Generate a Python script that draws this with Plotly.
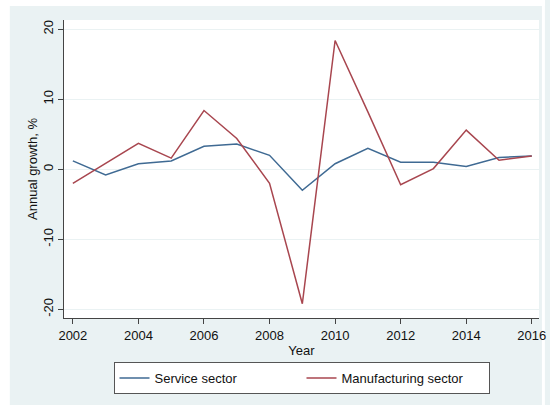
import plotly.graph_objects as go

years = list(range(2002, 2017))
service = [1.2, -0.8, 0.8, 1.2, 3.3, 3.6, 2.0, -3.0, 0.8, 3.0, 1.0, 1.0, 0.4, 1.7, 1.9]
manufacturing = [-2.0, 0.9, 3.7, 1.6, 8.4, 4.4, -2.0, -19.2, 18.4, 8.2, -2.2, 0.1, 5.6, 1.3, 1.9]
x_ticks = list(range(2002, 2017, 2))
y_ticks = [-20, -10, 0, 10, 20]
y_ticktext = ["-20", "-10", "0", "10", "20"]

BG = "#eaf2f3"
AX = "#444444"
FONT = "Liberation Sans, Arial, Helvetica, sans-serif"

fig = go.Figure()
fig.add_trace(go.Scatter(x=years, y=service, mode="lines", name="Service sector",
                         line=dict(color="#3f6a93", width=1.5)))
fig.add_trace(go.Scatter(x=years, y=manufacturing, mode="lines", name="Manufacturing sector",
                         line=dict(color="#a8464f", width=1.5)))

L, R, T, B = 64, 4, 20, 87
W, H = 550, 405
pw, ph = W - L - R, H - T - B

def px_x(px):
    return (px - L) / pw

def px_y(py):
    return (H - B - py) / ph

shapes = [
    dict(type="rect", xref="paper", yref="paper", x0=px_x(-2), x1=px_x(9), y0=px_y(410), y1=px_y(-2),
         fillcolor="white", line=dict(width=0), layer="below"),
    dict(type="rect", xref="paper", yref="paper", x0=px_x(-2), x1=px_x(552), y0=px_y(6), y1=px_y(-2),
         fillcolor="white", line=dict(width=0), layer="below"),
    dict(type="rect", xref="paper", yref="paper", x0=px_x(549), x1=px_x(552), y0=px_y(410), y1=px_y(-2),
         fillcolor="white", line=dict(width=0), layer="below"),
]

fig.update_layout(
    width=W, height=H,
    margin=dict(l=L, r=R, t=T, b=B, pad=0),
    paper_bgcolor=BG, plot_bgcolor="white",
    font=dict(family=FONT, size=13, color="#111111"),
    shapes=shapes,
    showlegend=True,
    legend=dict(orientation="h", x=0.5, xanchor="center", y=px_y(362), yanchor="top",
                bgcolor="white", bordercolor="#555555", borderwidth=1,
                entrywidth=142, entrywidthmode="pixels",
                font=dict(family=FONT, size=13, color="#111111")),
    xaxis=dict(range=[2001.73, 2016.22], tickmode="array", tickvals=x_ticks,
               ticklabeloverflow="allow",
               showgrid=False, zeroline=False, showline=True, linecolor=AX, linewidth=1,
               ticks="outside", ticklen=5, tickcolor=AX,
               title=dict(text="Year", standoff=4, font=dict(size=13))),
    yaxis=dict(range=[-21.24, 21.33], tickmode="array", tickvals=y_ticks, ticktext=y_ticktext,
               tickangle=-90,
               showgrid=True, gridcolor=BG, gridwidth=1, zeroline=False,
               showline=True, linecolor=AX, linewidth=1,
               ticks="outside", ticklen=5, tickcolor=AX,
               title=dict(text="Annual growth, %", standoff=0, font=dict(size=13))),
)

fig.write_html("out.html")
